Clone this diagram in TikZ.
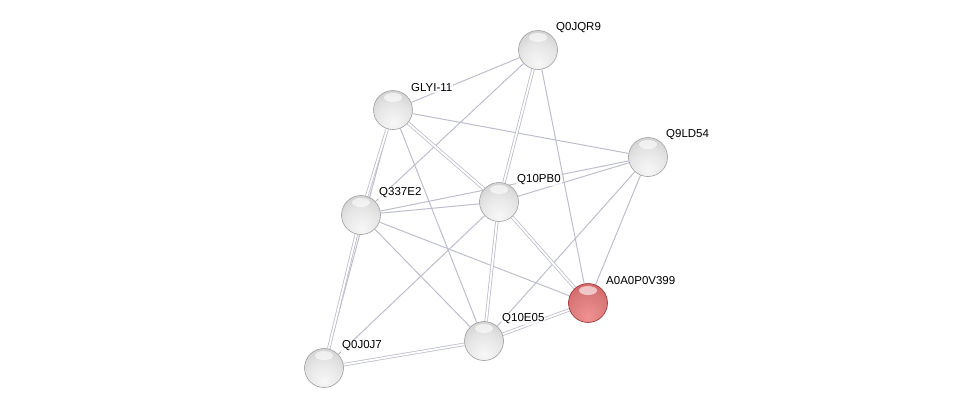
\documentclass[tikz,border=0pt]{standalone}
\usepackage{fontspec}
\setsansfont{Liberation Sans}
\usepackage{tikz}
\usetikzlibrary{positioning, backgrounds}
\usepackage{xcolor}
\definecolor{RedArista}{RGB}{188,190,206}
\definecolor{RedSemillaA}{RGB}{242,145,145}
\definecolor{RedSemillaB}{RGB}{208,88,90}
\definecolor{RedSemillaC}{RGB}{150,50,52}
% esferas al estilo STRING
\pgfdeclareradialshading{esfera}{\pgfpoint{0bp}{-18bp}}{color(0bp)=(white!97!black); color(22bp)=(white!90!black); color(40bp)=(white!80!black); color(52bp)=(white!70!black); color(62bp)=(white!58!black); color(80bp)=(white!50!black)}
\pgfdeclareradialshading{esferaroja}{\pgfpoint{0bp}{-18bp}}{color(0bp)=(RedSemillaA); color(24bp)=(RedSemillaB!80!white); color(44bp)=(RedSemillaB); color(58bp)=(RedSemillaC); color(80bp)=(RedSemillaC)}

\begin{document}
\begin{tikzpicture}[x=1pt, y=-1pt, font=\sffamily\fontsize{11.5}{13}\selectfont,
  proteina/.style={circle, minimum size=39pt, inner sep=0pt, shading=esfera, draw=gray!75, line width=0.6pt,
    path picture={\fill[white, opacity=0.6] ([yshift=-7pt]path picture bounding box.north) ellipse (9pt and 4.5pt);}},
  semilla/.style={proteina, shading=esferaroja, draw=RedSemillaC},
  etiqueta/.style={anchor=west, xshift=3pt, yshift=8pt, inner sep=1pt, fill=white, fill opacity=0.75, text opacity=1},
  arista/.style={draw=RedArista, line width=1pt},
  doble/.style={draw=RedArista, double=white, double distance=1.8pt, line width=0.8pt}]
  \useasboundingbox (0,0) rectangle (976,413);

  % proteinas
  \node[proteina, label={[etiqueta]north east:Q0JQR9}] (q0jqr9) at (538,50) {};
  \node[proteina, label={[etiqueta]north east:GLYI-11}] (glyi11) at (393,110) {};
  \node[proteina, label={[etiqueta]north east:Q9LD54}] (q9ld54) at (648,157) {};
  \node[proteina, label={[etiqueta]north east:Q10PB0}] (q10pb0) at (499,202) {};
  \node[proteina, label={[etiqueta]north east:Q337E2}] (q337e2) at (361,215) {};
  \node[semilla, label={[etiqueta]north east:A0A0P0V399}] (a0a0p0v399) at (588,303) {};
  \node[proteina, label={[etiqueta]north east:Q10E05}] (q10e05) at (484,341) {};
  \node[proteina, label={[etiqueta]north east:Q0J0J7}] (q0j0j7) at (324,368) {};

  % interacciones
  \begin{scope}[on background layer]
    \draw[arista] (q0jqr9) -- (glyi11);
    \draw[arista] (q0jqr9) -- (q337e2);
    \draw[arista] (q0jqr9) -- (a0a0p0v399);
    \draw[arista] (glyi11) -- (q9ld54);
    \draw[arista] (glyi11) -- (q10e05);
    \draw[arista] (glyi11) -- (q0j0j7);
    \draw[arista] (q9ld54) -- (q10pb0);
    \draw[arista] (q9ld54) -- (q337e2);
    \draw[arista] (q9ld54) -- (q10e05);
    \draw[arista] (q9ld54) -- (a0a0p0v399);
    \draw[arista] (q337e2) -- (q10pb0);
    \draw[arista] (q337e2) -- (a0a0p0v399);
    \draw[arista] (q337e2) -- (q10e05);
    \draw[arista] (q10pb0) -- (q0j0j7);
    \draw[doble] (q0jqr9) -- (q10pb0);
    \draw[doble] (glyi11) -- (q337e2);
    \draw[doble] (glyi11) -- (q10pb0);
    \draw[doble] (q10pb0) -- (q10e05);
    \draw[doble] (q10pb0) -- (a0a0p0v399);
    \draw[doble] (q10e05) -- (a0a0p0v399);
    \draw[doble] (q10e05) -- (q0j0j7);
    \draw[doble] (q337e2) -- (q0j0j7);
  \end{scope}
\end{tikzpicture}
\end{document}
